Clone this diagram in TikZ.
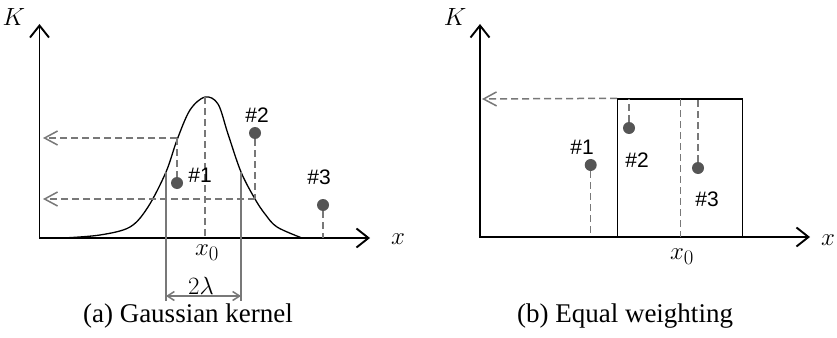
\documentclass[tikz,border=0pt]{standalone}
\usepackage{fontspec}
\setmainfont{Liberation Serif}
\newfontfamily\arialf{Liberation Sans}
\usetikzlibrary{arrows.meta}
\definecolor{dashgray}{RGB}{120,120,120}
\definecolor{dotgray}{RGB}{85,85,85}
\begin{document}
\begin{tikzpicture}[x=1pt,y=-1pt,
  axisline/.style={line width=1.9pt,line join=miter,
    {Straight Barb[length=12pt,width=19pt,line width=1.9pt]}-{Straight Barb[length=12pt,width=19pt,line width=1.9pt]}},
  curveline/.style={line width=1.3pt},
  dline/.style={dashgray,line width=1.5pt,dash pattern=on 7pt off 4pt},
  darrow/.style={dline,-{Straight Barb[length=13pt,width=14pt,line width=1.5pt,dashgray]}},
  gline/.style={dashgray,line width=1.5pt},
  dimarrow/.style={gline,{Straight Barb[length=7pt,width=9pt]}-{Straight Barb[length=7pt,width=9pt]}},
  dot/.style={circle,fill=dotgray,inner sep=0pt,minimum size=12pt},
  numlabel/.style={font=\arialf\fontsize{21}{24}\selectfont,inner sep=0pt},
  mathlabel/.style={font=\fontsize{30}{34}\selectfont,inner sep=0pt},
  klabel/.style={font=\fontsize{26}{30}\selectfont,inner sep=0pt},
  caption/.style={font=\fontsize{27}{30}\selectfont,inner sep=0pt}
]
\useasboundingbox (0,0) rectangle (837,337);
% ---------- panel (a) ----------
\coordinate (aO) at (39.5,238);
\coordinate (aK) at (39.5,24);
\coordinate (aX) at (370,238);
\draw[axisline] (aK) -- (aO) -- (aX);
\node[klabel] (aKl) at (14,17) {$K$};
\node[mathlabel] (aXl) at (398,239) {$x$};
% curve
\draw[curveline] plot[smooth,tension=0.55] coordinates {(63,238) (100,235) (130,227) (148,207) (166,172) (177,140) (190,110) (205,97) (218,104) (228,134) (241,172) (255,199) (265,214) (277,227) (302,238)};
% centre line
\coordinate (aPeak) at (205,97);
\coordinate (aC) at (205,238);
\draw[dline] (aPeak) -- (aC);
\node[mathlabel] (ax0) at (207,253) {$x_0$};
% points
\node[dot] (a1) at (177,183) {};
\node[dot] (a2) at (255,133) {};
\node[dot] (a3) at (323,205) {};
\node[numlabel] (a1l) at (200,175) {\#1};
\node[numlabel] (a2l) at (257,115) {\#2};
\node[numlabel] (a3l) at (319,177) {\#3};
\coordinate (aK1) at (177,138);
\coordinate (aK2) at (255,199);
\coordinate (aB3) at (323,238);
\coordinate (aT1) at (43,138);
\coordinate (aT2) at (43,199);
\draw[dline] (aK1) -- (a1);
\draw[dline] (a2) -- (aK2);
\draw[dline] (a3) -- (aB3);
\draw[darrow] (aK1) -- (aT1);
\draw[darrow] (aK2) -- (aT2);
% bandwidth
\coordinate (aL1) at (166,172);
\coordinate (aL2) at (166,301);
\coordinate (aR1) at (241,172);
\coordinate (aR2) at (241,301);
\draw[gline] (aL1) -- (aL2);
\draw[gline] (aR1) -- (aR2);
\coordinate (aD1) at (166,296);
\coordinate (aD2) at (241,296);
\draw[dimarrow] (aD1) -- (aD2);
\node[font=\fontsize{23}{26}\selectfont,inner sep=0pt] (alam) at (201,286) {$2\lambda$};
\node[caption] (acap) at (188,316) {(a) Gaussian kernel};
% ---------- panel (b) ----------
\coordinate (bO) at (480,237);
\coordinate (bK) at (480,24);
\coordinate (bX) at (810,237);
\node[draw,line width=1.4pt,minimum width=125pt,minimum height=138pt,inner sep=0pt] (box) at (680.2,168) {};
\draw[axisline] (bK) -- (bO) -- (bX);
\node[klabel] (bKl) at (455,17) {$K$};
\node[mathlabel] (bXl) at (828,240) {$x$};
\coordinate (bT) at (482,99);
\draw[darrow] (box.north west) -- (bT);
\coordinate (bCt) at (680.7,99);
\coordinate (bCb) at (680.7,237);
\draw[dline] (bCt) -- (bCb);
\node[mathlabel] (bx0) at (682,257) {$x_0$};
\node[dot] (b1) at (590.7,165) {};
\node[dot] (b2) at (629,128) {};
\node[dot] (b3) at (698,168) {};
\node[numlabel] (b1l) at (582,147) {\#1};
\node[numlabel] (b2l) at (637,160) {\#2};
\node[numlabel] (b3l) at (707,199) {\#3};
\coordinate (bB1) at (590.7,237);
\coordinate (bU2) at (629,99);
\coordinate (bU3) at (698,99);
\draw[dline] (b1) -- (bB1);
\draw[dline] (b2) -- (bU2);
\draw[dline] (b3) -- (bU3);
\node[caption] (bcap) at (625,316) {(b) Equal weighting};
\end{tikzpicture}
\end{document}
